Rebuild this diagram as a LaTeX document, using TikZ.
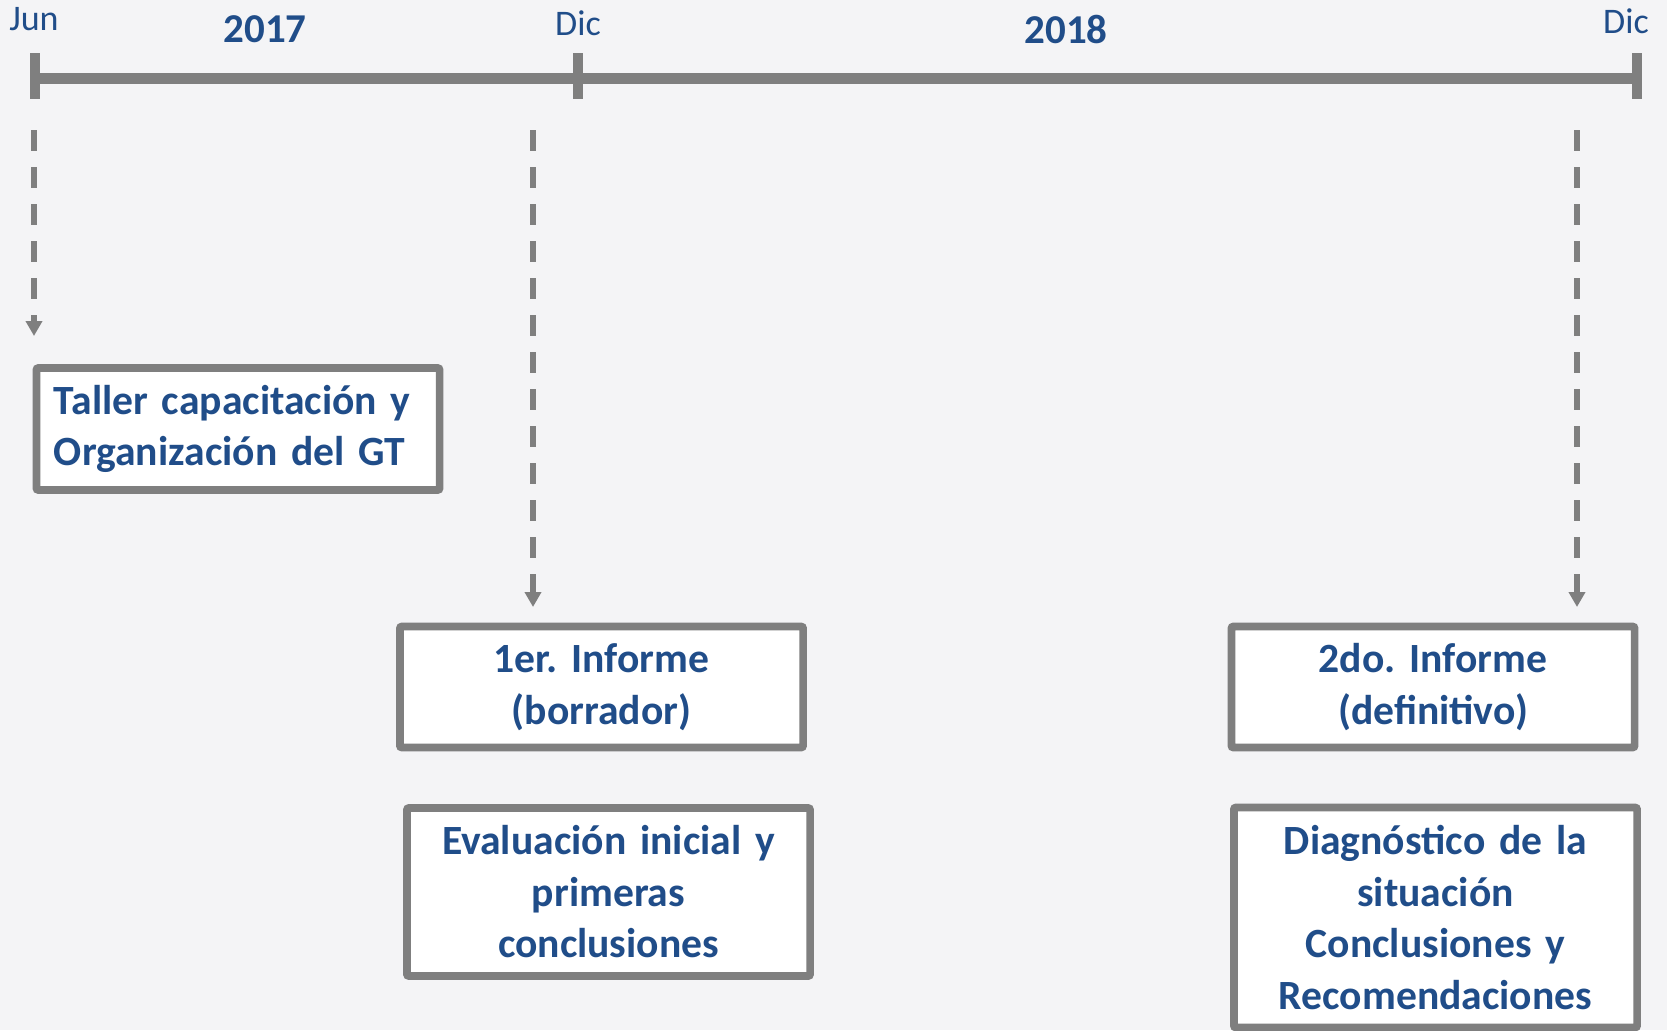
\documentclass[tikz,border=0pt]{standalone}
\usepackage{fontspec}
\setmainfont{Carlito}
\usetikzlibrary{arrows.meta}

\definecolor{fondo}{RGB}{244,244,246}
\definecolor{gris}{RGB}{127,127,127}
\definecolor{azul}{RGB}{32,77,137}

\tikzset{
  caja/.style={draw=gris, line width=3.85pt, fill=white, text=azul, rounded corners=1pt,
    font=\fontsize{20.8}{25.75}\selectfont\bfseries\frenchspacing, align=center,
    text width=184pt, inner xsep=8.8pt, inner ysep=0pt},
  mes/.style={text=azul, font=\fontsize{18}{20}\selectfont, inner sep=0pt},
  anio/.style={text=azul, font=\fontsize{20.5}{22}\selectfont\bfseries, inner sep=0pt},
  flecha/.style={draw=gris, line width=2.7pt, dash pattern=on 10.5pt off 8pt,
    -{Triangle[length=7.5pt,width=8pt]}},
  marca/.style={draw=gris, line width=5pt}
}

\begin{document}
\begin{tikzpicture}[x=0.5pt, y=-0.5pt]
    	\fill[fondo] (0,0) rectangle (1667,1030);
    	\useasboundingbox (0,0) rectangle (1667,1030);

    	% linea de tiempo
    	\coordinate (t0) at (35,78);
    	\coordinate (t1) at (578,78);
    	\coordinate (t2) at (1637,78);
    	\draw[gris, line width=5.5pt] (t0) -- (t2);
    	\foreach \t in {t0, t1, t2}{
    		\draw[marca] ([yshift=12.5pt]\t) -- ([yshift=-10.5pt]\t);
    	}

    	\node[mes] (jun) at (34,19) {Jun};
    	\node[mes] (dic1) at (578,23) {Dic};
    	\node[mes] (dic2) at (1626,21) {Dic};
    	\node[anio] (a17) at (265,29) {2017};
    	\node[anio] (a18) at (1066,29) {2018};

    	% cajas
    	\node[caja, align=left, minimum height=61pt] (taller) at (238,429)
    		{Taller capacitación y\\Organización del GT};
    	\node[caja, minimum height=60.5pt] (inf1) at (601.5,687)
    		{1er. Informe\\(borrador)};
    	\node[caja, minimum height=84pt] (eval) at (608.5,892)
    		{Evaluación inicial y\\primeras\\conclusiones};
    	\node[caja, minimum height=60.5pt] (inf2) at (1433,687)
    		{2do. Informe\\(definitivo)};
    	\node[caja, minimum height=110pt] (diag) at (1435.5,917.5)
    		{Diagnóstico de la\\situación\\Conclusiones y\\Recomendaciones};

    	% flechas
    	\coordinate (f1a) at (34,130);
    	\coordinate (f1b) at (34,336);
    	\coordinate (f2a) at (533,130);
    	\coordinate (f2b) at (533,607);
    	\coordinate (f3a) at (1577,130);
    	\coordinate (f3b) at (1577,607);
    	\draw[flecha] (f1a) -- (f1b);
    	\draw[flecha] (f2a) -- (f2b);
    	\draw[flecha] (f3a) -- (f3b);

\end{tikzpicture}
\end{document}
